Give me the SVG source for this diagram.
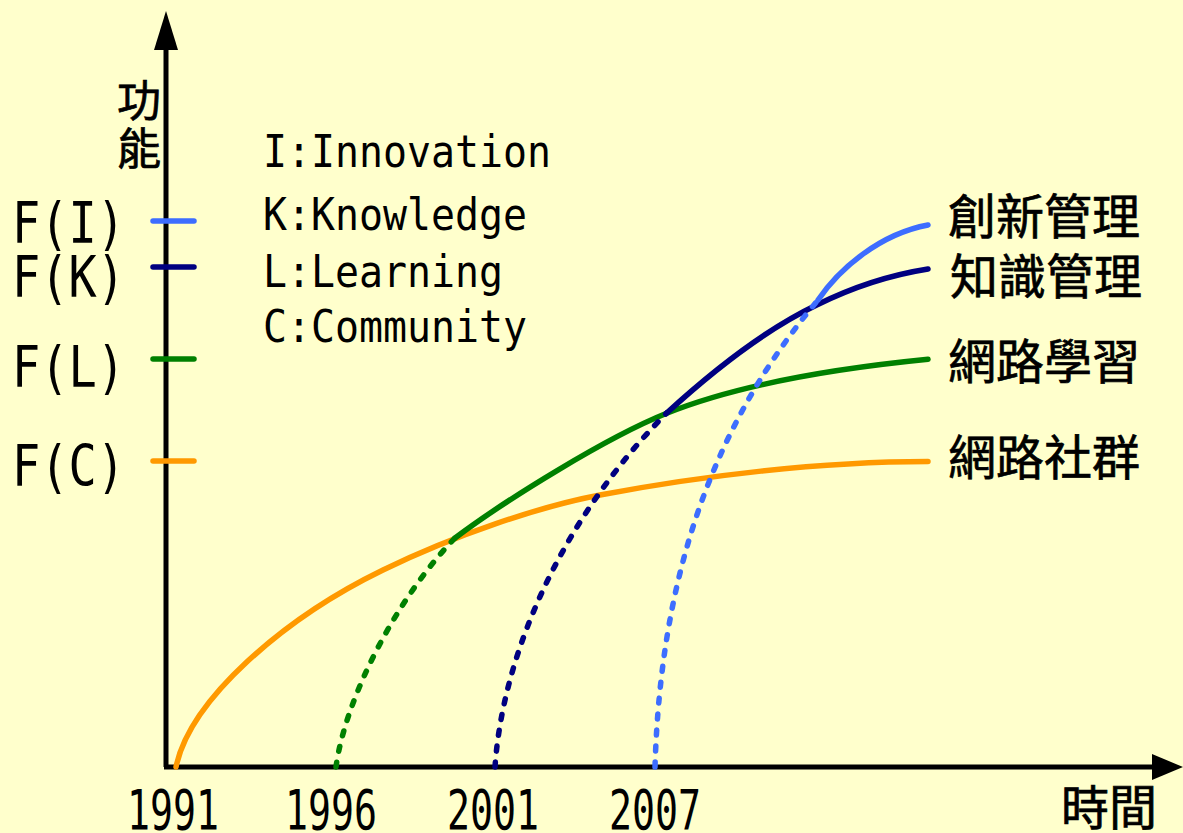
<svg xmlns="http://www.w3.org/2000/svg" width="1183" height="833" viewBox="0 0 1183 833">
<style>
.ax{stroke:#000;stroke-width:5;fill:none}
.c{fill:none;stroke-width:5.5;stroke-linecap:round}
.d{stroke-dasharray:5 11}
.or{stroke:#FF9900}.gr{stroke:#008000}.nv{stroke:#000080}.bl{stroke:#3D6DFF}
.m{font-family:"DejaVu Sans Mono","Liberation Mono",monospace;fill:#000}
.cjk{font-family:"Noto Sans CJK TC","Noto Sans CJK SC",sans-serif;fill:#000;stroke:#000;stroke-width:0.7}
</style>
<rect x="0" y="0" width="1183" height="833" fill="#FFFFCC"/>
<g id="axes">
<line class="ax" x1="166" y1="767" x2="166" y2="45"/>
<polygon points="166,11 154,50 178,50" fill="#000"/>
<line class="ax" x1="164" y1="767" x2="1156" y2="767"/>
<polygon points="1183,767 1152,754 1152,780" fill="#000"/>
</g>
<g id="ticks">
<line class="c bl" x1="153" y1="221" x2="194" y2="221"/>
<line class="c nv" x1="153" y1="267" x2="194" y2="267"/>
<line class="c gr" x1="153" y1="359" x2="194" y2="359"/>
<line class="c or" x1="153" y1="461" x2="194" y2="461"/>
</g>
<g id="connectors">
<path class="c or" d="M176,767 C190,700 283,618.6 383,570 C455,535 540,506.4 600,495 C700,476 820,461.5 928,461.5"/>
<path class="c gr d" d="M336,767 C345,700 395,600 455,538"/>
<path class="c gr" d="M455,538 C505,500.5 606.7,437.3 666.7,413.3 C746.7,381.3 850,367 928,359.3"/>
<path class="c nv d" d="M495,767 C503,650 565,515 666.7,413"/>
<path class="c nv" d="M666.7,413 C705,378 760,332 816.7,305 C855,286 890,275 928,269"/>
<path class="c bl d" d="M655,767 C660,600 700,440 818,300"/>
<path class="c bl" d="M818,300 C840,268 880,234 928,225"/>
</g>
<g id="y-label">
<text class="cjk" x="117" y="117" font-size="44">功</text>
<text class="cjk" x="117" y="165" font-size="44">能</text>
</g>
<g id="f-labels">
<text class="m" x="12" y="243" font-size="57" textLength="113" lengthAdjust="spacingAndGlyphs">F(I)</text>
<text class="m" x="12" y="297" font-size="57" textLength="113" lengthAdjust="spacingAndGlyphs">F(K)</text>
<text class="m" x="12" y="387" font-size="57" textLength="113" lengthAdjust="spacingAndGlyphs">F(L)</text>
<text class="m" x="12" y="486" font-size="57" textLength="113" lengthAdjust="spacingAndGlyphs">F(C)</text>
</g>
<g id="legend">
<text class="m" x="263" y="167" font-size="44" textLength="288" lengthAdjust="spacingAndGlyphs">I:Innovation</text>
<text class="m" x="263" y="230" font-size="44" textLength="264" lengthAdjust="spacingAndGlyphs">K:Knowledge</text>
<text class="m" x="263" y="287" font-size="44" textLength="240" lengthAdjust="spacingAndGlyphs">L:Learning</text>
<text class="m" x="263" y="342" font-size="44" textLength="264" lengthAdjust="spacingAndGlyphs">C:Community</text>
</g>
<g id="curve-labels">
<text class="cjk" x="948" y="234" font-size="48">創新管理</text>
<text class="cjk" x="950" y="294" font-size="48">知識管理</text>
<text class="cjk" x="948" y="379" font-size="48">網路學習</text>
<text class="cjk" x="948" y="475" font-size="48">網路社群</text>
</g>
<g id="x-labels">
<text class="m" x="127" y="829" font-size="56" textLength="92" lengthAdjust="spacingAndGlyphs">1991</text>
<text class="m" x="285" y="829" font-size="56" textLength="92" lengthAdjust="spacingAndGlyphs">1996</text>
<text class="m" x="447" y="829" font-size="56" textLength="92" lengthAdjust="spacingAndGlyphs">2001</text>
<text class="m" x="609" y="829" font-size="56" textLength="92" lengthAdjust="spacingAndGlyphs">2007</text>
<text class="cjk" x="1061" y="825" font-size="48">時間</text>
</g>
</svg>
